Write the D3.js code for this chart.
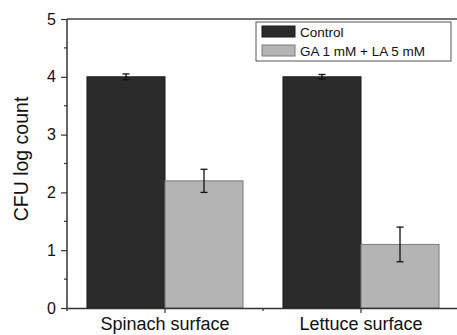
<!DOCTYPE html>
<html>
<head>
<meta charset="utf-8">
<script src="https://cdn.jsdelivr.net/npm/d3@7"></script>
<style>
  body { margin: 0; background: #fff; }
  svg { display: block; font-family: "Liberation Sans", Arial, sans-serif; }
</style>
</head>
<body>
<div id="chart"></div>
<script>
const categories = ["Spinach surface", "Lettuce surface"];
const seriesNames = ["Control", "GA 1 mM + LA 5 mM"];
const controlValues = [4.0, 4.0];
const controlErrors = [0.05, 0.04];
const treatedValues = [2.2, 1.1];
const treatedErrors = [0.2, 0.3];
const yTicks = [0, 1, 2, 3, 4, 5];

const colors = ["#2b2b2b", "#b4b4b4"];
const strokes = ["#1a1a1a", "#7a7a7a"];

const width = 457, height = 335;
const plotLeft = 67, plotRight = 459, plotTop = 19, plotBottom = 308;

const svg = d3.select("#chart").append("svg")
  .attr("width", width)
  .attr("height", height);

const data = [];
categories.forEach((c, i) => {
  data.push({ cat: c, series: seriesNames[0], value: controlValues[i], err: controlErrors[i], idx: 0 });
  data.push({ cat: c, series: seriesNames[1], value: treatedValues[i], err: treatedErrors[i], idx: 1 });
});

const x0 = d3.scaleBand().domain(categories).range([plotLeft, plotRight]).padding(0);
const x1 = d3.scaleBand().domain(seriesNames).range([0, x0.bandwidth()]).paddingInner(0).paddingOuter(0.256);
const y = d3.scaleLinear().domain([0, 5]).range([plotBottom, plotTop]);

// bars
svg.append("g").selectAll("rect")
  .data(data)
  .join("rect")
    .attr("x", d => x0(d.cat) + x1(d.series))
    .attr("y", d => y(d.value))
    .attr("width", x1.bandwidth())
    .attr("height", d => y(0) - y(d.value))
    .attr("fill", d => colors[d.idx])
    .attr("stroke", d => strokes[d.idx])
    .attr("stroke-width", 1);

// error bars
const eb = svg.append("g").attr("stroke", "#111").attr("stroke-width", 1.3);
data.forEach(d => {
  const cx = x0(d.cat) + x1(d.series) + x1.bandwidth() / 2;
  eb.append("line").attr("x1", cx).attr("x2", cx).attr("y1", y(d.value + d.err)).attr("y2", y(d.value - d.err));
  eb.append("line").attr("x1", cx - 3.5).attr("x2", cx + 3.5).attr("y1", y(d.value + d.err)).attr("y2", y(d.value + d.err));
  eb.append("line").attr("x1", cx - 3.5).attr("x2", cx + 3.5).attr("y1", y(d.value - d.err)).attr("y2", y(d.value - d.err));
});

// y axis
const yAxis = d3.axisLeft(y).tickValues(yTicks).tickFormat(d3.format("d")).tickSize(6).tickSizeOuter(0);
const gy = svg.append("g").attr("transform", `translate(${plotLeft},0)`).call(yAxis);
gy.select(".domain").attr("stroke", "#333").attr("stroke-width", 1.5).attr("d", `M0,${plotTop}V${plotBottom + 3}`);
gy.selectAll(".tick line").attr("stroke", "#333").attr("stroke-width", 1.2);
gy.selectAll(".tick text").attr("font-size", 16).attr("fill", "#111").attr("x", -11);
gy.append("g").selectAll("line")
  .data(d3.range(0.5, 5, 1))
  .join("line")
    .attr("x1", -3).attr("x2", 0)
    .attr("y1", d => y(d)).attr("y2", d => y(d))
    .attr("stroke", "#333").attr("stroke-width", 1.2);

// x axis
const xAxis = d3.axisBottom(x0).tickSize(5).tickSizeOuter(0);
const gx = svg.append("g").attr("transform", `translate(0,${plotBottom})`).call(xAxis);
gx.select(".domain").attr("stroke", "#333").attr("stroke-width", 1.5);
gx.selectAll(".tick line").attr("stroke", "#333").attr("stroke-width", 1.2);
gx.selectAll(".tick text").attr("font-size", 18).attr("fill", "#111").attr("y", 22).attr("dy", null);
gx.append("line")
  .attr("x1", x0(categories[1])).attr("x2", x0(categories[1]))
  .attr("y1", 0).attr("y2", 3)
  .attr("stroke", "#333").attr("stroke-width", 1.2);

// top frame
svg.append("line")
  .attr("x1", plotLeft).attr("x2", plotRight)
  .attr("y1", plotTop).attr("y2", plotTop)
  .attr("stroke", "#444").attr("stroke-width", 1.5);

// y label
svg.append("text")
  .attr("transform", "translate(28,159) rotate(-90)")
  .attr("text-anchor", "middle")
  .attr("font-size", 19.5)
  .attr("fill", "#111")
  .text("CFU log count");

// legend
const legend = svg.append("g").attr("transform", "translate(256,22)");
legend.append("rect")
  .attr("width", 195).attr("height", 39)
  .attr("fill", "#fff").attr("stroke", "#555").attr("stroke-width", 1);
seriesNames.forEach((s, i) => {
  const row = legend.append("g").attr("transform", `translate(6,${4 + i * 19})`);
  row.append("rect")
    .attr("width", 33).attr("height", 11)
    .attr("fill", colors[i]).attr("stroke", strokes[i]).attr("stroke-width", 1);
  row.append("text")
    .attr("x", 38).attr("y", 11)
    .attr("font-size", 13.5)
    .attr("fill", "#111")
    .text(s);
});
</script>
</body>
</html>
